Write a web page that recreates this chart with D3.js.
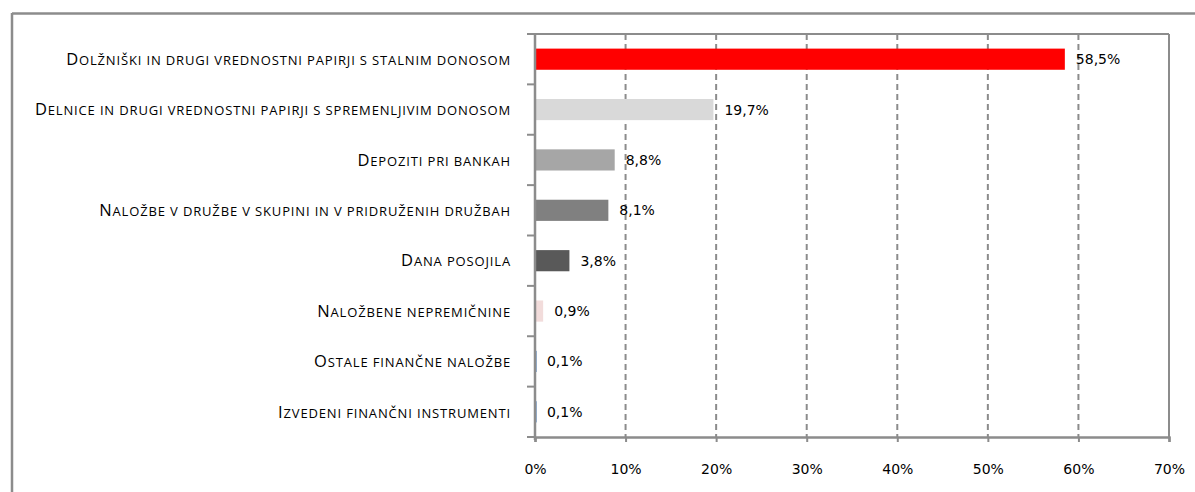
<!DOCTYPE html>
<html><head><meta charset="utf-8">
<script src="https://cdn.jsdelivr.net/npm/d3@7"></script>
<style>
html,body{margin:0;padding:0;background:#fff;}
svg{display:block;}
</style></head>
<body>
<svg id="chart" width="1195" height="492"></svg>
<script>
const categories = [
  "Dolžniški in drugi vrednostni papirji s stalnim donosom",
  "Delnice in drugi vrednostni papirji s spremenljivim donosom",
  "Depoziti pri bankah",
  "Naložbe v družbe v skupini in v pridruženih družbah",
  "Dana posojila",
  "Naložbene nepremičnine",
  "Ostale finančne naložbe",
  "Izvedeni finančni instrumenti"
];
const values = [58.5, 19.7, 8.8, 8.1, 3.8, 0.9, 0.1, 0.1];
const valueLabels = ["58,5%", "19,7%", "8,8%", "8,1%", "3,8%", "0,9%", "0,1%", "0,1%"];
const barColors = ["#ff0000", "#d9d9d9", "#a6a6a6", "#808080", "#595959", "#f2dcdb", "#95b3d7", "#95b3d7"];
const xTicks = [0, 10, 20, 30, 40, 50, 60, 70];

(function () {
const svg = d3.select("#chart");
const grey = "#8c8c8c";

// outer frame (partially visible)
svg.append("line").attr("x1", 12).attr("x2", 1195).attr("y1", 13.5).attr("y2", 13.5)
  .attr("stroke", grey).attr("stroke-width", 2.5);
svg.append("line").attr("x1", 12).attr("x2", 12).attr("y1", 13).attr("y2", 492)
  .attr("stroke", grey).attr("stroke-width", 2.5);

const pL = 535, pR = 1169, pT = 34, pB = 437;
const x = d3.scaleLinear().domain([0, 70]).range([pL, pR]);
const y = d3.scaleBand().domain(categories).range([pT, pB]).paddingInner(0.58).paddingOuter(0.29);
const yBounds = d3.scaleLinear().domain([0, categories.length]).range([pT, pB]);

// vertical dashed gridlines
svg.append("g").selectAll("line").data(xTicks.slice(1, -1)).join("line")
  .attr("x1", d => x(d)).attr("x2", d => x(d)).attr("y1", pT).attr("y2", pB)
  .attr("stroke", grey).attr("stroke-width", 2).attr("stroke-dasharray", "6,4");

// bars
svg.append("g").selectAll("rect").data(values).join("rect")
  .attr("x", x(0) + 1)
  .attr("y", (d, i) => y(categories[i]))
  .attr("width", d => Math.max(1, x(d) - x(0) - 1))
  .attr("height", y.bandwidth())
  .attr("fill", (d, i) => barColors[i]);

// plot frame top & right
svg.append("line").attr("x1", pL).attr("x2", pR).attr("y1", pT).attr("y2", pT)
  .attr("stroke", grey).attr("stroke-width", 2);
svg.append("line").attr("x1", pR).attr("x2", pR).attr("y1", pT).attr("y2", pB)
  .attr("stroke", grey).attr("stroke-width", 2);

// x axis
const xAxis = d3.axisBottom(x).tickValues(xTicks).tickFormat(d => d + "%").tickSize(5).tickPadding(22);
const gx = svg.append("g").attr("transform", `translate(0,${pB})`).call(xAxis);
gx.select(".domain").attr("stroke", grey).attr("stroke-width", 2.5);
gx.selectAll(".tick line").attr("stroke", grey).attr("stroke-width", 2);
gx.selectAll(".tick text").attr("font-family", "DejaVu Sans").attr("font-size", 14).attr("fill", "#000");

// y axis line and ticks at band boundaries
svg.append("line").attr("x1", pL).attr("x2", pL).attr("y1", pT).attr("y2", pB + 3)
  .attr("stroke", grey).attr("stroke-width", 2.5);
svg.append("g").selectAll("line").data(d3.range(categories.length + 1)).join("line")
  .attr("x1", pL - 8).attr("x2", pL).attr("y1", d => yBounds(d)).attr("y2", d => yBounds(d))
  .attr("stroke", grey).attr("stroke-width", 2);

// category labels (small caps: first letter large, rest smaller uppercase)
const labels = svg.append("g").selectAll("text").data(categories).join("text")
  .attr("x", 511)
  .attr("y", d => y(d) + y.bandwidth() / 2)
  .attr("dy", "0.36em")
  .attr("text-anchor", "end")
  .attr("font-family", "Open Sans")
  .attr("letter-spacing", 0.85)
  .attr("fill", "#000");
labels.append("tspan").attr("font-size", 16.5).text(d => d.charAt(0).toUpperCase());
labels.append("tspan").attr("font-size", 13).text(d => d.slice(1).toUpperCase());

// value labels
svg.append("g").selectAll("text").data(values).join("text")
  .attr("x", d => x(d) + 11)
  .attr("y", (d, i) => y(categories[i]) + y.bandwidth() / 2)
  .attr("dy", "0.36em")
  .attr("font-family", "DejaVu Sans")
  .attr("font-size", 14)
  .attr("fill", "#000")
  .text((d, i) => valueLabels[i]);
})();
</script>
</body></html>
